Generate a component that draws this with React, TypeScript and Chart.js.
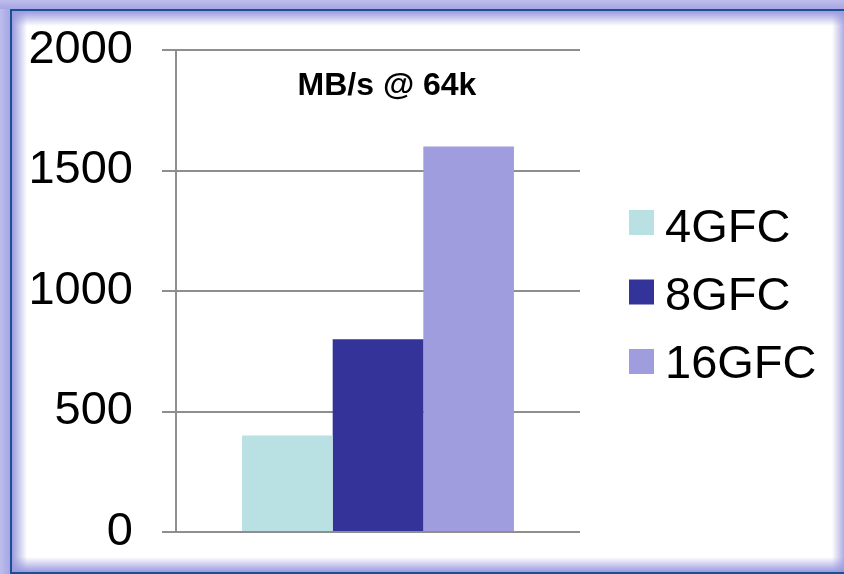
import React, { useEffect, useRef } from "react";
import { Chart, registerables } from "chart.js";

Chart.register(...registerables);

// Chart data
const categories = ["MB/s @ 64k"];
const seriesLabels = ["4GFC", "8GFC", "16GFC"];
const throughput = [400, 800, 1600];
const seriesColors = ["#b9e0e2", "#333399", "#9f9ddd"];
const yTickValues = [0, 500, 1000, 1500, 2000];

const FONT = "'Liberation Sans', Arial, Helvetica, sans-serif";
const W = 844;
const H = 574;

// Lavender frame with a dark rule and a soft inner glow
const framePlugin = {
  id: "frame",
  beforeDraw(chart: any) {
    const { ctx, width, height } = chart;
    ctx.save();
    ctx.fillStyle = "#a6a6e3";
    ctx.fillRect(0, 0, width, height);
    const outerTop = ctx.createLinearGradient(0, 0, 0, 9);
    outerTop.addColorStop(0, "#bdbdec");
    outerTop.addColorStop(1, "#a6a6e3");
    ctx.fillStyle = outerTop;
    ctx.fillRect(0, 0, width, 9);
    const outerLeft = ctx.createLinearGradient(0, 0, 10, 0);
    outerLeft.addColorStop(0, "#bdbdec");
    outerLeft.addColorStop(1, "#a6a6e3");
    ctx.fillStyle = outerLeft;
    ctx.fillRect(0, 9, 10, height - 9);

    const L = 12, T = 11, R = width + 3, B = 572;
    ctx.fillStyle = "#ffffff";
    ctx.fillRect(L, T, R - L, B - T);

    const glow = "154,154,222";
    const g = 15;
    const sides: [number, number, number, number, number, number, number, number][] = [
      [L, 0, L + g, 0, L, T, g, B - T],
      [0, T, 0, T + g, L, T, R - L, g],
      [0, B, 0, B - g, L, B - g, R - L, g],
      [R, 0, R - g, 0, R - g, T, g, B - T],
    ];
    for (const [x0, y0, x1, y1, rx, ry, rw, rh] of sides) {
      const grad = ctx.createLinearGradient(x0, y0, x1, y1);
      grad.addColorStop(0, `rgba(${glow},1)`);
      grad.addColorStop(0.4, `rgba(${glow},0.6)`);
      grad.addColorStop(1, `rgba(${glow},0)`);
      ctx.fillStyle = grad;
      ctx.fillRect(rx, ry, rw, rh);
    }

    ctx.strokeStyle = "#1d4f97";
    ctx.lineWidth = 2;
    ctx.strokeRect(L - 1, T - 1, R - L + 2, B - T + 2);
    ctx.restore();
  },
};

// Category caption inside the plot area
const captionPlugin = {
  id: "caption",
  afterDraw(chart: any) {
    const { ctx, chartArea } = chart;
    ctx.save();
    ctx.font = `bold 32px ${FONT}`;
    ctx.fillStyle = "#000";
    ctx.textAlign = "center";
    ctx.textBaseline = "alphabetic";
    const cx = (chartArea.left + chartArea.right) / 2 + 9;
    ctx.fillText(chart.data.labels[0], cx, chartArea.top + 45);
    ctx.restore();
  },
};

// Legend listing the series to the right of the plot
const legendPlugin = {
  id: "sideLegend",
  afterDraw(chart: any) {
    const { ctx, chartArea } = chart;
    ctx.save();
    ctx.font = `47px ${FONT}`;
    ctx.textAlign = "left";
    ctx.textBaseline = "alphabetic";
    const boxX = chartArea.right + 49;
    chart.data.datasets.forEach((ds: any, i: number) => {
      const baseline = 242 + i * 68;
      const boxTop = 210 + i * 69.5;
      ctx.fillStyle = ds.backgroundColor;
      ctx.fillRect(boxX, boxTop, 25, 25);
      ctx.fillStyle = "#000";
      ctx.fillText(ds.label, boxX + 36, baseline);
    });
    ctx.restore();
  },
};

export default function App() {
  const canvasRef = useRef<HTMLCanvasElement | null>(null);

  useEffect(() => {
    document.body.style.margin = "0";
    const canvas = canvasRef.current;
    if (!canvas) return;
    const chart = new Chart(canvas, {
      type: "bar",
      data: {
        labels: categories,
        datasets: seriesLabels.map((label, i) => ({
          label,
          data: [throughput[i]],
          backgroundColor: seriesColors[i],
          borderWidth: 0,
          categoryPercentage: 0.673,
          barPercentage: 1,
        })),
      },
      options: {
        responsive: false,
        animation: false,
        devicePixelRatio: 1,
        layout: { padding: { left: 0, top: 50, right: 264, bottom: 42 } },
        plugins: {
          legend: { display: false },
          title: { display: false },
          tooltip: { enabled: false },
        },
        scales: {
          x: { display: false },
          y: {
            min: 0,
            max: 2000,
            afterFit: (scale: any) => {
              scale.width = 176;
              scale.paddingTop = 0;
              scale.paddingBottom = 0;
            },
            afterBuildTicks: (scale: any) => {
              scale.ticks = yTickValues.map((v) => ({ value: v }));
            },
            ticks: {
              color: "#000",
              font: { family: FONT, size: 47 },
              padding: 29,
              callback: (value: any) => String(value),
            },
            grid: {
              color: "#8e8e8e",
              lineWidth: 2,
              tickLength: 14,
              drawTicks: true,
            },
            border: { display: true, color: "#8e8e8e", width: 2 },
          },
        },
      },
      plugins: [framePlugin, captionPlugin, legendPlugin],
    });
    return () => chart.destroy();
  }, []);

  return (
    <div style={{ width: W, height: H }}>
      <canvas ref={canvasRef} width={W} height={H} style={{ display: "block" }} />
    </div>
  );
}
